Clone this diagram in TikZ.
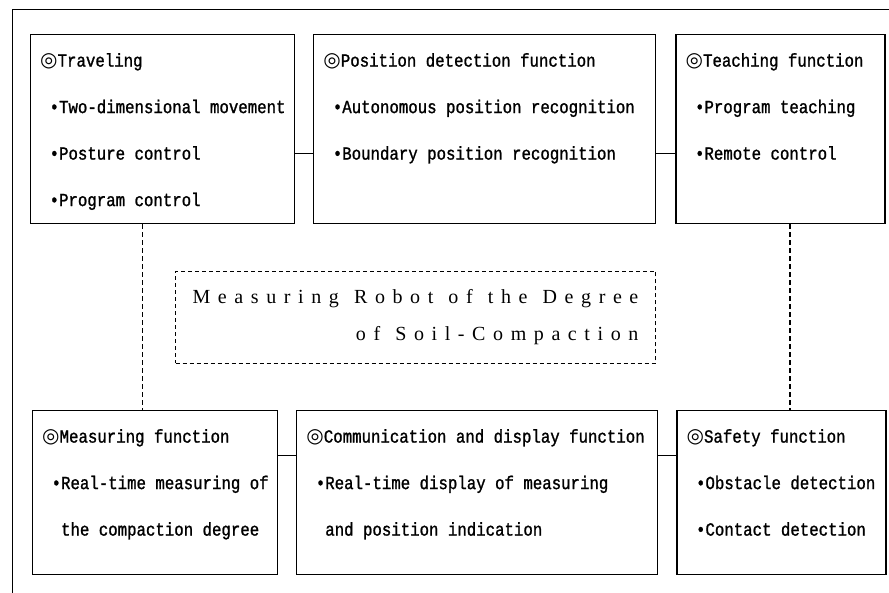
\documentclass[tikz,border=0pt]{standalone}
\usepackage{fontspec}
\usepackage{tikz}
\usetikzlibrary{positioning, calc}
\newfontfamily\gothfont[FakeStretch=0.85, FakeBold=1.2]{Liberation Mono}
\newfontfamily\symfont{DejaVu Sans}
\newfontfamily\titlefont[LetterSpace=38, WordSpace=1.2]{Liberation Serif}
\newcommand{\headsym}{{\symfont\fontsize{20pt}{20pt}\selectfont ◎}}

\begin{document}
\begin{tikzpicture}[
    x=1pt, y=1pt,
    funcbox/.style={rectangle, draw=black, line width=1.2pt, minimum height=189pt, inner sep=0pt},
    lowbox/.style={funcbox, minimum height=164pt},
    titlebox/.style={rectangle, draw=black, line width=1pt, dash pattern=on 4pt off 3pt, minimum width=480pt, minimum height=92pt, align=right, font=\titlefont\fontsize{20pt}{37pt}\selectfont},
    txt/.style={inner sep=0pt, align=left, font=\gothfont\fontsize{18.5pt}{46.5pt}\selectfont},
    link/.style={line width=1pt},
    dotline/.style={line width=1.3pt, dash pattern=on 5pt off 3pt}
]
    \useasboundingbox (0,0) rectangle (889,593);

    % outer frame (cut off at right and bottom)
    \coordinate (corner) at (12,583);
    \draw[line width=1pt] (corner |- 0,0) -- (corner) -- (889,583);

    % upper row
    \node[funcbox, minimum width=264pt, anchor=north west] (trav) at (30,559) {};
    \node[funcbox, minimum width=342pt, right=18pt of trav] (pos) {};
    \node[funcbox, minimum width=209pt, right=19pt of pos] (teach) {};

    \node[txt, below right=19pt and 10pt of trav.north west] (travtxt)
        {\headsym Traveling\\ ~•Two-dimensional movement\\ ~•Posture control\\ ~•Program control};
    \node[txt, below right=19pt and 10pt of pos.north west] (postxt)
        {\headsym Position detection function\\ ~•Autonomous position recognition\\ ~•Boundary position recognition};
    \node[txt, below right=19pt and 10pt of teach.north west] (teachtxt)
        {\headsym Teaching function\\ ~•Program teaching\\ ~•Remote control};

    % centre title
    \node[titlebox, anchor=north west] (title) at (175,322)
        {Measuring Robot of the Degree\\ of Soil-Compaction};

    % lower row
    \node[lowbox, minimum width=245pt, anchor=north west] (meas) at (32,183) {};
    \node[lowbox, minimum width=361pt, right=18pt of meas] (comm) {};
    \node[lowbox, minimum width=209pt, right=18pt of comm] (safe) {};

    \node[txt, below right=19pt and 10pt of meas.north west] (meastxt)
        {\headsym Measuring function\\ ~•Real-time measuring of\\ ~~the compaction degree};
    \node[txt, below right=19pt and 10pt of comm.north west] (commtxt)
        {\headsym Communication and display function\\ ~•Real-time display of measuring\\ ~~and position indication};
    \node[txt, below right=19pt and 10pt of safe.north west] (safetxt)
        {\headsym Safety function\\ ~•Obstacle detection\\ ~•Contact detection};

    % connections
    \draw[link] ([yshift=-24.5pt]trav.east) -- ([yshift=-24.5pt]pos.west);
    \draw[link] ([yshift=-24.5pt]pos.east) -- ([yshift=-24.5pt]teach.west);
    \draw[link] ([yshift=37pt]meas.east) -- ([yshift=37pt]comm.west);
    \draw[link] ([yshift=37pt]comm.east) -- ([yshift=37pt]safe.west);
    \draw[dotline] ([xshift=-20pt]trav.south) -- ([xshift=-20pt]trav.south |- meas.north);
    \draw[dotline] ([xshift=9.5pt]teach.south) -- ([xshift=9.5pt]teach.south |- safe.north);

\end{tikzpicture}
\end{document}
